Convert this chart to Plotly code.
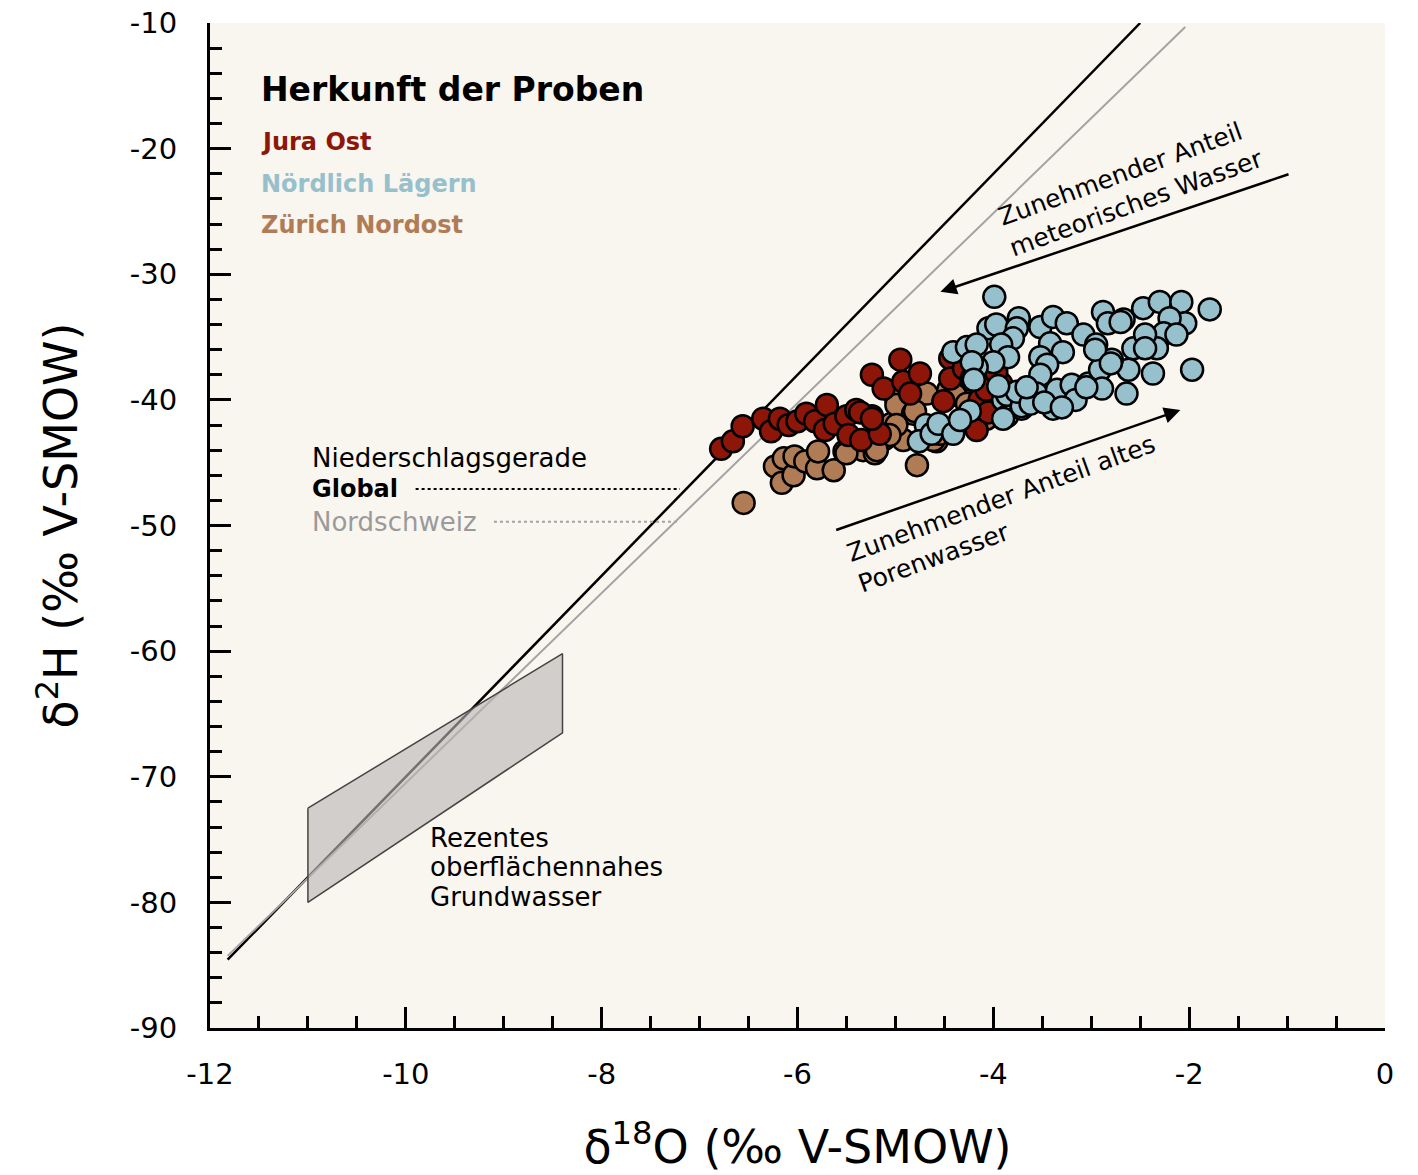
import plotly.graph_objects as go

# ---------------- data ----------------
jura_x = [-6.78, -6.66, -6.56, -6.35, -6.27, -6.18, -6.09, -6.00, -5.91, -5.82, -5.72, -5.70, -5.62,
          -5.50, -5.48, -5.40, -5.35, -5.24, -5.16, -5.36, -5.24, -4.95, -5.24, -5.12, -4.92, -4.75,
          -4.85, -4.51, -4.44, -4.44, -4.22, -4.14, -4.07, -3.92, -3.97, -4.17, -4.30, -4.05]
jura_y = [-43.9, -43.3, -42.1, -41.5, -42.5, -41.5, -42.0, -41.7, -41.1, -41.7, -42.4, -40.4, -41.9,
          -41.3, -42.8, -40.8, -43.2, -41.3, -42.7, -41.0, -41.5, -36.8, -38.0, -39.1, -38.55, -37.9,
          -39.5, -40.1, -36.7, -38.3, -41.9, -40.0, -39.2, -38.7, -37.8, -42.4, -37.5, -41.0]

zuerich_x = [-6.55, -6.23, -6.16, -6.14, -6.04, -6.03, -5.92, -5.80, -5.79, -5.63, -5.52, -5.33, -5.21,
             -5.11, -5.04, -4.99, -4.78, -4.99, -4.82, -4.68, -4.92, -4.99, -5.06, -4.58, -4.46, -4.26,
             -4.80, -4.61, -4.39, -4.27, -4.07, -5.50, -5.19, -4.55]
zuerich_y = [-48.2, -45.3, -46.6, -44.65, -46.0, -44.5, -44.9, -45.45, -44.1, -45.6, -44.1, -44.0, -44.25,
             -43.1, -41.9, -40.0, -45.2, -40.4, -41.1, -39.5, -43.2, -42.0, -42.8, -43.3, -39.2, -40.1,
             -40.9, -43.2, -39.6, -40.3, -41.5, -44.25, -44.0, -42.7]

laegern_x = [-3.99, -4.05, -3.97, -3.74, -3.76, -3.80, -3.92, -3.85, -4.00, -4.17, -4.22, -4.24, -3.90,
             -3.86, -3.71, -3.52, -3.42, -3.39, -3.25, -3.29, -3.52, -3.45, -3.52, -3.56, -3.39, -3.35,
             -3.20, -3.16, -3.08, -3.03, -2.95,
             -1.79, -1.97, -2.37, -2.64, -2.62, -2.79, -2.88, -2.83, -2.67, -2.47, -2.30, -2.08, -2.04,
             -2.30, -2.43, -2.57, -2.91, -2.89,
             -4.41, -4.27, -4.17, -4.69, -3.86,
             -2.20, -2.26, -2.13, -2.33, -2.45, -2.45, -2.70, -2.96, -2.80, -3.05,
             -4.22, -4.20, -4.76, -4.63, -4.56, -4.41, -4.34, -3.90, -3.71, -3.76,
             -3.62, -3.95, -3.48, -3.66, -3.30]
laegern_y = [-31.8, -34.3, -34.0, -33.5, -34.3, -35.1, -35.6, -36.6, -37.0, -37.4, -38.3, -40.9, -40.0,
             -41.3, -40.7, -34.2, -35.5, -33.4, -33.9, -36.2, -36.6, -37.2, -38.0, -39.5, -40.7, -39.2,
             -38.8, -40.0, -34.8, -38.7, -35.6,
             -32.8, -37.6, -37.9, -39.5, -37.6, -36.8, -33.0, -33.9, -33.6, -32.7, -32.2, -32.2, -33.9,
             -35.0, -35.0, -35.9, -37.6, -39.1,
             -36.2, -35.8, -35.6, -42.0, -39.6,
             -33.5, -34.7, -34.8, -35.9, -34.8, -35.9, -33.8, -36.0, -37.1, -39.0,
             -37.0, -38.4, -43.3, -42.7, -41.9, -42.7, -41.6, -41.5, -40.5, -39.35,
             -40.3, -38.9, -40.2, -39.0, -40.6]

# meteoric water lines (endpoints in delta-18O)
gmwl_x = [-11.82, -2.5]
gmwl_slope, gmwl_icpt = 8.0, 10.0
nmwl_x = [-11.82, -2.04]
nmwl_slope, nmwl_icpt = 7.56, 5.1

# field of recent shallow groundwater
gw_x = [-11.0, -8.4, -8.4, -11.0, -11.0]
gw_y = [-72.5, -60.2, -66.5, -80.0, -72.5]

x_ticks = [-12, -10, -8, -6, -4, -2, 0]
y_ticks = [-90, -80, -70, -60, -50, -40, -30, -20, -10]

# ---------------- style ----------------
FONT = "'DejaVu Sans', Roboto, sans-serif"
RED = "#8e1609"
BLUE = "#97c0cd"
BROWN = "#b07c56"
BG = "#f9f5ef"

fig = go.Figure()

fig.add_trace(go.Scatter(x=gmwl_x, y=[gmwl_slope * v + gmwl_icpt for v in gmwl_x], mode="lines",
                         line=dict(color="black", width=2.5), showlegend=False, hoverinfo="skip"))
fig.add_trace(go.Scatter(x=nmwl_x, y=[nmwl_slope * v + nmwl_icpt for v in nmwl_x], mode="lines",
                         line=dict(color="#a3a3a3", width=2), showlegend=False, hoverinfo="skip"))
fig.add_trace(go.Scatter(x=gw_x, y=gw_y, mode="lines", fill="toself",
                         fillcolor="rgba(185,183,183,0.62)", line=dict(color="#444444", width=1.5),
                         showlegend=False, hoverinfo="skip"))

mk = dict(size=22, line=dict(color="black", width=2.5))
fig.add_trace(go.Scatter(x=zuerich_x, y=zuerich_y, mode="markers", name="Zürich Nordost",
                         marker=dict(color=BROWN, **mk), showlegend=False))
fig.add_trace(go.Scatter(x=jura_x, y=jura_y, mode="markers", name="Jura Ost",
                         marker=dict(color=RED, **mk), showlegend=False))
fig.add_trace(go.Scatter(x=laegern_x, y=laegern_y, mode="markers", name="Nördlich Lägern",
                         marker=dict(color=BLUE, **mk), showlegend=False))


def txt(x, y, s, size=26, color="black", bold=False, anchor="left", angle=0, align="left"):
    fig.add_annotation(x=x, y=y, xref="x", yref="y", text=("<b>%s</b>" % s) if bold else s,
                       showarrow=False, xanchor=anchor, yanchor="middle", textangle=angle,
                       align=align, font=dict(family=FONT, size=size, color=color))


txt(-11.5, -15.3, "Herkunft der Proben", size=33, bold=True)
txt(-11.5, -19.5, "Jura Ost", size=24, color=RED, bold=True)
txt(-11.5, -22.8, "Nördlich Lägern", size=24, color=BLUE, bold=True)
txt(-11.5, -26.1, "Zürich Nordost", size=24, color=BROWN, bold=True)

txt(-10.98, -44.6, "Niederschlagsgerade", size=26)
txt(-10.98, -47.1, "Global", size=24, bold=True)
txt(-10.98, -49.7, "Nordschweiz", size=26, color="#9a9a9a")
fig.add_shape(type="line", x0=-9.9, x1=-7.2, y0=-47.1, y1=-47.1, xref="x", yref="y",
              line=dict(color="black", width=2, dash="dot"))
fig.add_shape(type="line", x0=-9.1, x1=-7.2, y0=-49.7, y1=-49.7, xref="x", yref="y",
              line=dict(color="#a3a3a3", width=2, dash="dot"))

txt(-9.77, -74.9, "Rezentes", size=26)
txt(-9.77, -77.2, "oberflächennahes", size=26)
txt(-9.77, -79.6, "Grundwasser", size=26)

# arrows
fig.add_annotation(x=-4.54, y=-31.4, ax=-0.97, ay=-22.0, xref="x", yref="y", axref="x", ayref="y",
                   showarrow=True, arrowhead=2, arrowsize=1.3, arrowwidth=2.5, arrowcolor="black", text="")
fig.add_annotation(x=-2.09, y=-40.8, ax=-5.62, ay=-50.4, xref="x", yref="y", axref="x", ayref="y",
                   showarrow=True, arrowhead=2, arrowsize=1.3, arrowwidth=2.5, arrowcolor="black", text="")
fig.add_annotation(x=-2.60, y=-23.1, xref="x", yref="y", showarrow=False, textangle=-20, align="left",
                   text="Zunehmender Anteil<br>meteorisches Wasser",
                   font=dict(family=FONT, size=25, color="black"))
fig.add_annotation(x=-3.86, y=-49.1, xref="x", yref="y", showarrow=False, textangle=-20, align="left",
                   text="Zunehmender Anteil altes<br>Porenwasser",
                   font=dict(family=FONT, size=25, color="black"))

axis_common = dict(showgrid=False, zeroline=False, showline=True, linecolor="black", linewidth=3,
                   ticks="inside", ticklen=21, tickwidth=3, tickcolor="black",
                   tickfont=dict(family=FONT, size=29, color="black"), tickmode="array",
                   ticklabeloverflow="allow")

fig.update_xaxes(range=[-12, 0], tickvals=x_ticks, ticktext=[str(v) for v in x_ticks],
                 minor=dict(ticks="inside", ticklen=12, tickwidth=3, tickcolor="black", tick0=-12, dtick=0.5),
                 ticklabelstandoff=18,
                 title=dict(text="δ<sup>18</sup>O (‰ V-SMOW)", font=dict(family=FONT, size=46, color="black"),
                            standoff=42),
                 **axis_common)
fig.update_yaxes(range=[-90, -10], tickvals=y_ticks, ticktext=[str(v) for v in y_ticks],
                 minor=dict(ticks="inside", ticklen=12, tickwidth=3, tickcolor="black", tick0=-90, dtick=2),
                 ticklabelstandoff=24,
                 title=dict(text="δ<sup>2</sup>H (‰ V-SMOW)", font=dict(family=FONT, size=46, color="black"),
                            standoff=38),
                 **axis_common)

fig.update_layout(width=1418, height=1175, margin=dict(l=210, r=33, t=23, b=147, autoexpand=False),
                  paper_bgcolor="white", plot_bgcolor=BG, showlegend=False)

fig.write_html("out.html", config={"displayModeBar": False},
               post_script="document.body.style.margin='0';")
